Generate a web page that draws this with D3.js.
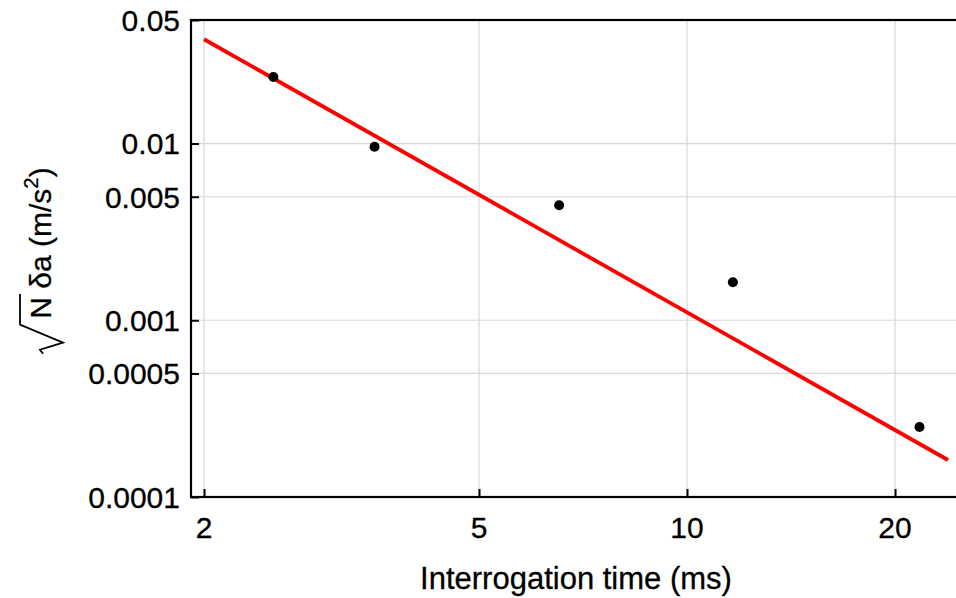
<!DOCTYPE html>
<html>
<head>
<meta charset="utf-8">
<script src="https://cdn.jsdelivr.net/npm/d3@7"></script>
<style>
  html, body { margin: 0; padding: 0; background: #fff; }
  svg { display: block; font-family: "Liberation Sans", Arial, Helvetica, sans-serif; }
</style>
</head>
<body>
<div id="chart"></div>
<script>
//// DATA

// measured points: interrogation time (ms), sqrt(N) * delta a (m/s^2)
const TIMES = [2.52, 3.53, 6.53, 11.65, 21.7];
const SENSITIVITY = [0.0238, 0.0096, 0.00447, 0.00164, 0.000249];

// fitted line, given by its two end points
const FIT_TIMES = [2.0, 23.86];
const FIT_VALUES = [0.0389, 0.000162];

const X_TICKS = [2, 5, 10, 20];
const Y_TICKS = [0.0001, 0.0005, 0.001, 0.005, 0.01, 0.05];
const Y_TICK_LABELS = ["0.0001", "0.0005", "0.001", "0.005", "0.01", "0.05"];

//// LAYOUT

const WIDTH = 956, HEIGHT = 598;
const FRAME = { left: 191, top: 20, right: 962, bottom: 497 };

const x = d3.scaleLog().domain([1.915, 25]).range([FRAME.left, FRAME.right]);
const y = d3.scaleLog().domain([0.0001, 0.05]).range([FRAME.bottom, FRAME.top]);

const svg = d3.select("#chart").append("svg")
  .attr("width", WIDTH)
  .attr("height", HEIGHT);

// grid
svg.append("g").attr("class", "grid-x")
  .selectAll("line").data(X_TICKS).enter().append("line")
  .attr("x1", d => x(d)).attr("x2", d => x(d))
  .attr("y1", FRAME.top).attr("y2", FRAME.bottom)
  .attr("stroke", "#d8d8d8").attr("stroke-width", 1.2);

svg.append("g").attr("class", "grid-y")
  .selectAll("line").data(Y_TICKS).enter().append("line")
  .attr("x1", FRAME.left).attr("x2", FRAME.right)
  .attr("y1", d => y(d)).attr("y2", d => y(d))
  .attr("stroke", "#d8d8d8").attr("stroke-width", 1.2);

// axes with inward ticks
const yAxis = d3.axisRight(y)
  .tickValues(Y_TICKS)
  .tickSize(8)
  .tickFormat("");
svg.append("g").attr("class", "y-axis")
  .attr("transform", `translate(${FRAME.left},0)`)
  .call(yAxis)
  .call(g => g.select(".domain").remove())
  .call(g => g.selectAll(".tick line").attr("stroke", "#000").attr("stroke-width", 2));

const xAxis = d3.axisTop(x)
  .tickValues(X_TICKS)
  .tickSize(8)
  .tickFormat("");
svg.append("g").attr("class", "x-axis")
  .attr("transform", `translate(0,${FRAME.bottom})`)
  .call(xAxis)
  .call(g => g.select(".domain").remove())
  .call(g => g.selectAll(".tick line").attr("stroke", "#000").attr("stroke-width", 2));

// frame
svg.append("rect")
  .attr("x", FRAME.left).attr("y", FRAME.top)
  .attr("width", FRAME.right - FRAME.left)
  .attr("height", FRAME.bottom - FRAME.top)
  .attr("fill", "none")
  .attr("stroke", "#000")
  .attr("stroke-width", 2.2);

// tick labels
svg.append("g").attr("class", "y-labels")
  .selectAll("text").data(Y_TICKS).enter().append("text")
  .attr("x", FRAME.left - 11)
  .attr("y", d => y(d))
  .attr("dy", "0.36em")
  .attr("text-anchor", "end")
  .attr("font-size", 30)
  .attr("stroke", "#000").attr("stroke-width", 0.3)
  .text((d, i) => Y_TICK_LABELS[i]);

svg.append("g").attr("class", "x-labels")
  .selectAll("text").data(X_TICKS).enter().append("text")
  .attr("x", d => x(d))
  .attr("y", FRAME.bottom + 41)
  .attr("text-anchor", "middle")
  .attr("font-size", 30)
  .attr("stroke", "#000").attr("stroke-width", 0.3)
  .text(d => d);

// axis titles
svg.append("text")
  .attr("x", 576)
  .attr("y", 589)
  .attr("text-anchor", "middle")
  .attr("font-size", 31)
  .attr("stroke", "#000").attr("stroke-width", 0.3)
  .text("Interrogation time (ms)");

const FS = 30;
const yTitle = svg.append("g")
  .attr("transform", "translate(51,261) rotate(-90)");

const titleText = yTitle.append("text")
  .attr("font-size", FS)
  .attr("stroke", "#000").attr("stroke-width", 0.3)
  .attr("text-anchor", "start");
const nSpan = titleText.append("tspan").text("N");
titleText.append("tspan").text(" δa (m/s");
titleText.append("tspan").attr("font-size", FS * 0.68).attr("dy", -FS * 0.42).text("2");
titleText.append("tspan").attr("dy", FS * 0.42).text(")");

// center the title + radical about the anchor
const radW = 36;
const nW = nSpan.node().getComputedTextLength();
const textW = titleText.node().getComputedTextLength();
const total = radW + textW;
const n0 = -total / 2 + radW;
titleText.attr("x", n0);
yTitle.append("path")
  .attr("d", `M${n0 - 35},${-8} L${n0 - 31},${-11} L${n0 - 24},${12} L${n0 - 6},${-31} L${n0 + nW + 3},${-31}`)
  .attr("fill", "none")
  .attr("stroke", "#000")
  .attr("stroke-width", 1.8)
  .attr("stroke-linejoin", "miter");

// fit line
const line = d3.line().x(d => x(d[0])).y(d => y(d[1]));
svg.append("path")
  .datum(d3.zip(FIT_TIMES, FIT_VALUES))
  .attr("d", line)
  .attr("fill", "none")
  .attr("stroke", "#ff0000")
  .attr("stroke-width", 3.8);

// points
svg.append("g").attr("class", "points")
  .selectAll("circle").data(d3.zip(TIMES, SENSITIVITY)).enter().append("circle")
  .attr("cx", d => x(d[0]))
  .attr("cy", d => y(d[1]))
  .attr("r", 5)
  .attr("fill", "#000");
</script>
</body>
</html>
